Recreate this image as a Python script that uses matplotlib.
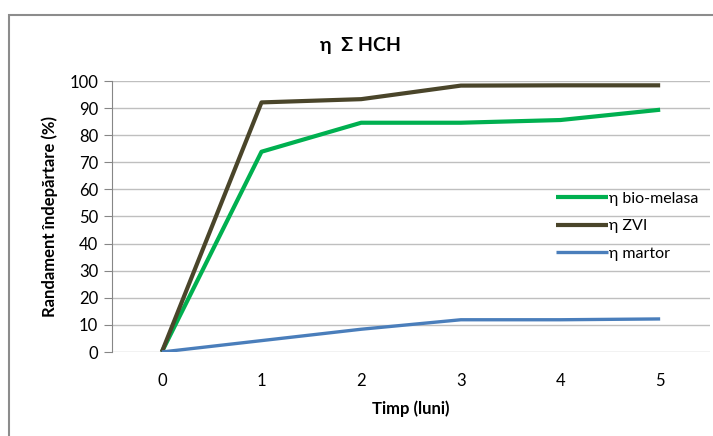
import matplotlib.pyplot as plt
from matplotlib.patches import Rectangle

plt.rcParams['font.family'] = ['Lato', 'DejaVu Sans']

# data
months = [0, 1, 2, 3, 4, 5]
bio_melasa = [0, 73.9, 84.6, 84.6, 85.6, 89.4]
zvi = [0, 92.1, 93.3, 98.3, 98.4, 98.4]
martor = [0, 4.2, 8.4, 11.9, 11.9, 12.2]
y_ticks = list(range(0, 101, 10))

fig = plt.figure(figsize=(7.13, 4.36), dpi=100)
ax = fig.add_axes([112 / 713, 84 / 436, 598 / 713, 271 / 436])

# outer chart frame (Excel style)
fig.patches.append(Rectangle((9 / 713, -0.1), 1.2, (421 / 436) + 0.1,
                             transform=fig.transFigure, fill=False,
                             edgecolor='#8c8c8c', linewidth=1.5, zorder=0))

ax.plot(months, bio_melasa, color='#00b050', linewidth=3.0, label='η bio-melasa',
        solid_capstyle='butt', zorder=3)
ax.plot(months, zvi, color='#4a452a', linewidth=3.0, label='η ZVI',
        solid_capstyle='butt', zorder=3)
ax.plot(months, martor, color='#4a7ebb', linewidth=2.4, label='η martor',
        solid_capstyle='butt', zorder=3)

ax.set_xlim(-0.5, 5.5)
ax.set_ylim(0, 100)
ax.set_yticks(y_ticks)
ax.set_xticks(months)
ax.grid(axis='y', color='#bfbfbf', linewidth=1.0)
ax.set_axisbelow(True)

for side in ['top', 'right', 'bottom']:
    ax.spines[side].set_visible(False)
ax.spines['left'].set_color('#868686')
ax.tick_params(axis='y', colors='#868686', length=6, labelcolor='black',
               labelsize=12, pad=4)
ax.tick_params(axis='x', length=0, labelsize=12, pad=15)

ax.set_xlabel('Timp (luni)', fontsize=12, fontweight='bold', labelpad=8)
ax.set_ylabel('Randament îndepărtare (%)', fontsize=12, fontweight='bold',
              labelpad=8)
fig.text(360 / 713, 1 - 45 / 436, 'η  Σ HCH', ha='center', va='center',
         fontsize=14, fontweight='bold')

ax.legend(loc='upper left', bbox_to_anchor=(438 / 598, 167 / 271), frameon=False,
          fontsize=11.5, handlelength=3.2, handletextpad=0.1, labelspacing=0.85,
          borderaxespad=0)

plt.savefig('out.png', dpi=100)
